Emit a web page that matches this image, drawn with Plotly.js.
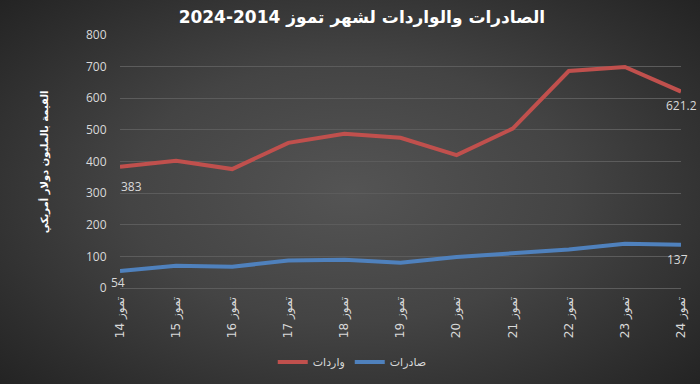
<!DOCTYPE html>
<html>
<head>
<meta charset="utf-8">
<script src="https://cdn.plot.ly/plotly-3.0.1.min.js"></script>
<style>
html,body{margin:0;padding:0;}
#chart{width:700px;height:384px;background:radial-gradient(ellipse 70% 75% at 50% 50%, #545454 0%, #444444 45%, #2e2e2e 80%, #222222 100%);}
</style>
</head>
<body>
<div id="chart"></div>
<script>
const categories = ["14 تموز","15 تموز","16 تموز","17 تموز","18 تموز","19 تموز","20 تموز","21 تموز","22 تموز","23 تموز","24 تموز"];
const imports = [383, 402, 376, 459, 488, 475, 420, 504, 686, 699, 621.2];
const exports = [54, 70, 67, 87, 89, 80, 98, 109, 122, 140, 137];
const importsName = "واردات";
const exportsName = "صادرات";
const yTicks = [0,100,200,300,400,500,600,700,800];

const labelFont = {family:"Open Sans, DejaVu Sans, sans-serif", size:12, color:"#d9d9d9"};

const traces = [
  {x:categories, y:imports, name:importsName, type:"scatter", mode:"lines",
   line:{color:"#c0504d", width:4}, hoverinfo:"skip"},
  {x:categories, y:exports, name:exportsName, type:"scatter", mode:"lines",
   line:{color:"#4f81bd", width:4}, hoverinfo:"skip"}
];

const last = categories.length - 1;
function dataLabel(cat, val, xs, ys){
  return {x:cat, y:val, xref:"x", yref:"y", text:String(val), showarrow:false,
          xanchor:"center", yanchor:"middle", xshift:xs, yshift:ys, font:labelFont};
}

const layout = {
  width:700, height:384,
  paper_bgcolor:"rgba(0,0,0,0)", plot_bgcolor:"rgba(0,0,0,0)",
  margin:{l:120, r:19, t:35, b:96},
  title:{text:"الصادرات والواردات لشهر تموز 2014-2024", x:0.517, xanchor:"center", y:0.955, yanchor:"middle",
         font:{family:"DejaVu Sans, sans-serif", size:17, color:"#ffffff", weight:"bold"}},
  xaxis:{type:"category", range:[0,10], showgrid:false, zeroline:false, showline:false,
         tickangle:-90, tickfont:{family:"DejaVu Sans, sans-serif", size:12, color:"#d9d9d9"},
         ticks:"outside", ticklen:3, tickcolor:"rgba(0,0,0,0)", fixedrange:true, automargin:false},
  yaxis:{range:[0,800], tickvals:yTicks, showgrid:true, gridcolor:"#5c5c5c", gridwidth:1,
         zeroline:true, zerolinecolor:"#5c5c5c", zerolinewidth:1, showline:false,
         tickfont:{family:"Open Sans, DejaVu Sans, sans-serif", size:12, color:"#d9d9d9"},
         ticks:"outside", ticklen:10, tickcolor:"rgba(0,0,0,0)", fixedrange:true, automargin:false},
  showlegend:true,
  legend:{orientation:"h", x:0.414, xanchor:"center", yref:"container", y:0.057, yanchor:"middle",
          font:{family:"DejaVu Sans, sans-serif", size:11, color:"#d9d9d9"},
          bgcolor:"rgba(0,0,0,0)", itemwidth:30, tracegroupgap:0},
  annotations:[
    {text:"القيمة بالمليون دولار أمريكي", xref:"paper", yref:"paper",
     x:-0.134, y:0.5, xanchor:"center", yanchor:"middle", textangle:-90, showarrow:false,
     font:{family:"DejaVu Sans, sans-serif", size:10, color:"#ffffff", weight:"bold"}},
    dataLabel(categories[0], imports[0], 11, -20),
    dataLabel(categories[last], imports[last], 0, -14),
    dataLabel(categories[0], exports[0], -2, -12),
    dataLabel(categories[last], exports[last], -4, -15)
  ]
};

Plotly.newPlot("chart", traces, layout, {displayModeBar:false, staticPlot:true});
</script>
</body>
</html>
